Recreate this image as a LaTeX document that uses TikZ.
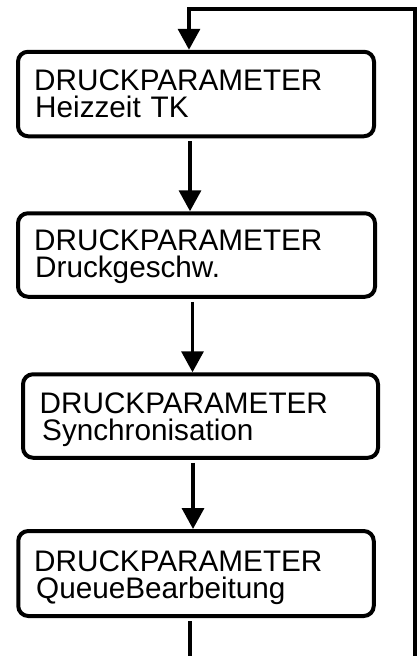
\documentclass[tikz,border=0pt]{standalone}
\usepackage{fontspec}
\setmainfont{Liberation Sans}
\usetikzlibrary{arrows.meta}
\begin{document}
\begin{tikzpicture}[x=1pt,y=-1pt,
  box/.style={draw=black,line width=4pt,rounded corners=10pt,fill=white,inner sep=0pt},
  txt/.style={anchor=base west,inner sep=0pt,text width=320pt,align=left,font=\fontsize{29.7}{27}\selectfont},
  conn/.style={line width=3.5pt,-{Triangle[width=22pt,length=21pt]}},
  plain/.style={line width=3.5pt}]
\useasboundingbox (0,0) rectangle (419,656);
\node[box,minimum width=356pt,minimum height=84.5pt] (b1) at (196,94) {};
\node[box,minimum width=357pt,minimum height=83.5pt] (b2) at (196.5,255) {};
\node[box,minimum width=355pt,minimum height=83.5pt] (b3) at (200.5,416) {};
\node[box,minimum width=355.5pt,minimum height=85pt] (b4) at (196,573.5) {};
\node[txt] (t1) at (34,90.5) {DRUCKPARAMETER\\\hspace*{1pt}Heizzeit TK};
\node[txt] (t2) at (34,250.9) {DRUCKPARAMETER\\\hspace*{1pt}Druckgeschw.};
\node[txt] (t3) at (39.5,413.3) {DRUCKPARAMETER\\\hspace*{2.5pt}Synchronisation};
\node[txt] (t4) at (34,571.7) {DRUCKPARAMETER\\\hspace*{2pt}QueueBearbeitung};
\coordinate (bend) at (190,656);
\coordinate (rb) at (415,656);
\coordinate (tl) at (189,9);
\draw[conn,shorten <=3pt] (b1.south -| 190,0) -- (b2.north -| 190,0);
\draw[conn,shorten <=3pt] (b2.south -| 192.5,0) -- (b3.north -| 192.5,0);
\draw[conn,shorten <=3pt] (b3.south -| 193,0) -- (b4.north -| 193,0);
\draw[plain,shorten <=3pt] (b4.south -| 190,0) -- (bend);
\draw[conn] (rb) |- (tl) -- (b1.north -| 189,0);
\end{tikzpicture}
\end{document}
